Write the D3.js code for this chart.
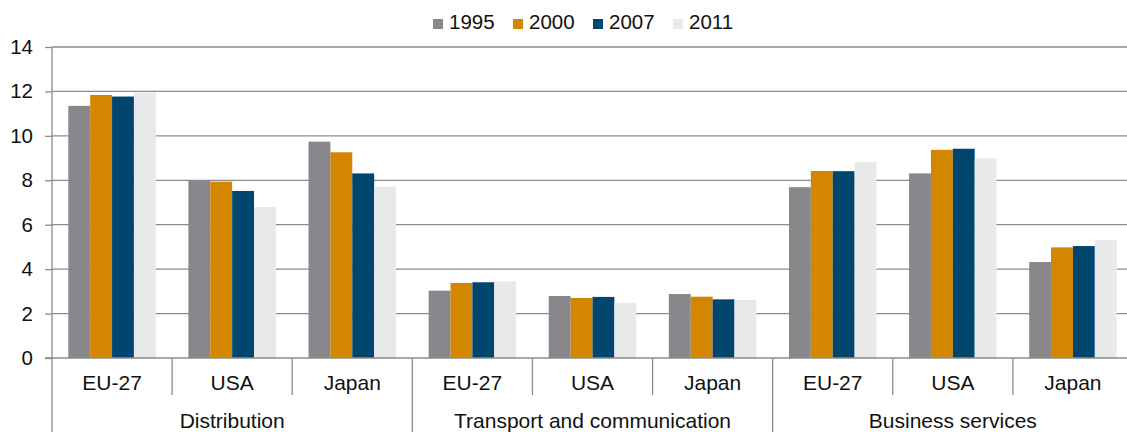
<!DOCTYPE html>
<html>
<head>
<meta charset="utf-8">
<script src="https://cdn.jsdelivr.net/npm/d3@7"></script>
<style>
html,body{margin:0;padding:0;background:#fff;overflow:hidden;}
text{font-family:"Liberation Sans",Arial,sans-serif;fill:#111;}
</style>
</head>
<body>
<svg id="chart" width="1127" height="432"></svg>
<script>
const sectors = ["Distribution", "Transport and communication", "Business services"];
const countries = ["EU-27", "USA", "Japan"];
const years = ["1995", "2000", "2007", "2011"];
const colors = ["#87878c", "#d38600", "#00466e", "#e8e9eb"];
const yTicks = [0, 2, 4, 6, 8, 10, 12, 14];
// values[sector][country] = [1995, 2000, 2007, 2011]
const distribution = [[11.35, 11.84, 11.77, 11.95], [8.01, 7.94, 7.52, 6.80], [9.74, 9.26, 8.31, 7.71]];
const transport = [[3.03, 3.38, 3.41, 3.45], [2.79, 2.70, 2.75, 2.48], [2.88, 2.76, 2.64, 2.61]];
const business = [[7.69, 8.42, 8.41, 8.82], [8.31, 9.37, 9.42, 8.99], [4.32, 4.98, 5.04, 5.31]];
const values = [distribution, transport, business];

(function () {
const svg = d3.select("#chart");
const mLeft = 52, mRight = 1133, mTop = 47, mBottom = 358;
const groups = [];
sectors.forEach((s, si) => countries.forEach((c, ci) => groups.push({key: si + "-" + ci, sector: s, si, country: c, vals: values[si][ci]})));

const x0 = d3.scaleBand().domain(groups.map(g => g.key)).range([mLeft, mRight]).padding(0);
const bw = x0.bandwidth();
const pad = 16.3;
const x1 = d3.scaleBand().domain(years).range([pad, bw - pad]).padding(0);
const y = d3.scaleLinear().domain([0, 14]).range([mBottom, mTop]);
const sx = d3.scaleBand().domain(sectors).range([mLeft, mRight]).padding(0);
const color = d3.scaleOrdinal().domain(years).range(colors);

const axisColor = "#8c8c8c";

// gridlines
svg.append("g").selectAll("line").data(yTicks.filter(t => t > 0)).join("line")
  .attr("x1", mLeft).attr("x2", 1127)
  .attr("y1", d => y(d)).attr("y2", d => y(d))
  .attr("stroke", axisColor).attr("stroke-width", 1.3);

// bars
const gg = svg.append("g").selectAll("g").data(groups).join("g")
  .attr("transform", d => `translate(${x0(d.key)},0)`);
gg.selectAll("rect").data(d => d.vals.map((v, i) => ({year: years[i], v}))).join("rect")
  .attr("x", d => x1(d.year)).attr("width", x1.bandwidth())
  .attr("y", d => y(d.v)).attr("height", d => y(0) - y(d.v))
  .attr("fill", d => color(d.year));

// y axis
const yAxis = d3.axisLeft(y).tickValues(yTicks).tickSize(7).tickPadding(12).tickFormat(d3.format("d"));
const ya = svg.append("g").attr("transform", `translate(${mLeft},0)`).call(yAxis);
ya.select(".domain").remove();
ya.selectAll(".tick line").attr("stroke", axisColor).attr("stroke-width", 1.3);
ya.selectAll(".tick text").style("font-size", "20.5px").style("font-family", "'Liberation Sans', Arial, sans-serif").attr("fill", "#111");
svg.append("line").attr("x1", mLeft).attr("x2", mLeft).attr("y1", mTop).attr("y2", 432)
  .attr("stroke", axisColor).attr("stroke-width", 1.3);

// x axis line
svg.append("line").attr("x1", 45).attr("x2", 1127).attr("y1", mBottom).attr("y2", mBottom)
  .attr("stroke", axisColor).attr("stroke-width", 1.5);

// country separators
svg.append("g").selectAll("line").data(groups.filter(g => countries.indexOf(g.country) > 0)).join("line")
  .attr("x1", d => x0(d.key)).attr("x2", d => x0(d.key))
  .attr("y1", mBottom).attr("y2", 395)
  .attr("stroke", axisColor).attr("stroke-width", 1.3);
// sector separators
svg.append("g").selectAll("line").data(sectors.slice(1)).join("line")
  .attr("x1", d => sx(d)).attr("x2", d => sx(d))
  .attr("y1", mBottom).attr("y2", 432)
  .attr("stroke", axisColor).attr("stroke-width", 1.3);

// country labels
svg.append("g").selectAll("text").data(groups).join("text")
  .attr("x", d => x0(d.key) + bw / 2).attr("y", 390)
  .attr("text-anchor", "middle").style("font-size", "21px")
  .text(d => d.country);
// sector labels
svg.append("g").selectAll("text").data(sectors).join("text")
  .attr("x", d => sx(d) + sx.bandwidth() / 2).attr("y", 428)
  .attr("text-anchor", "middle").style("font-size", "21px")
  .text(d => d);

// legend
const lg = svg.append("g").selectAll("g").data(years).join("g")
  .attr("transform", (d, i) => `translate(${433 + i * 80},19)`);
lg.append("rect").attr("width", 10).attr("height", 10).attr("fill", d => color(d));
lg.append("text").attr("x", 16).attr("y", 10.3).style("font-size", "20.5px").text(d => d);
})();
</script>
</body>
</html>
